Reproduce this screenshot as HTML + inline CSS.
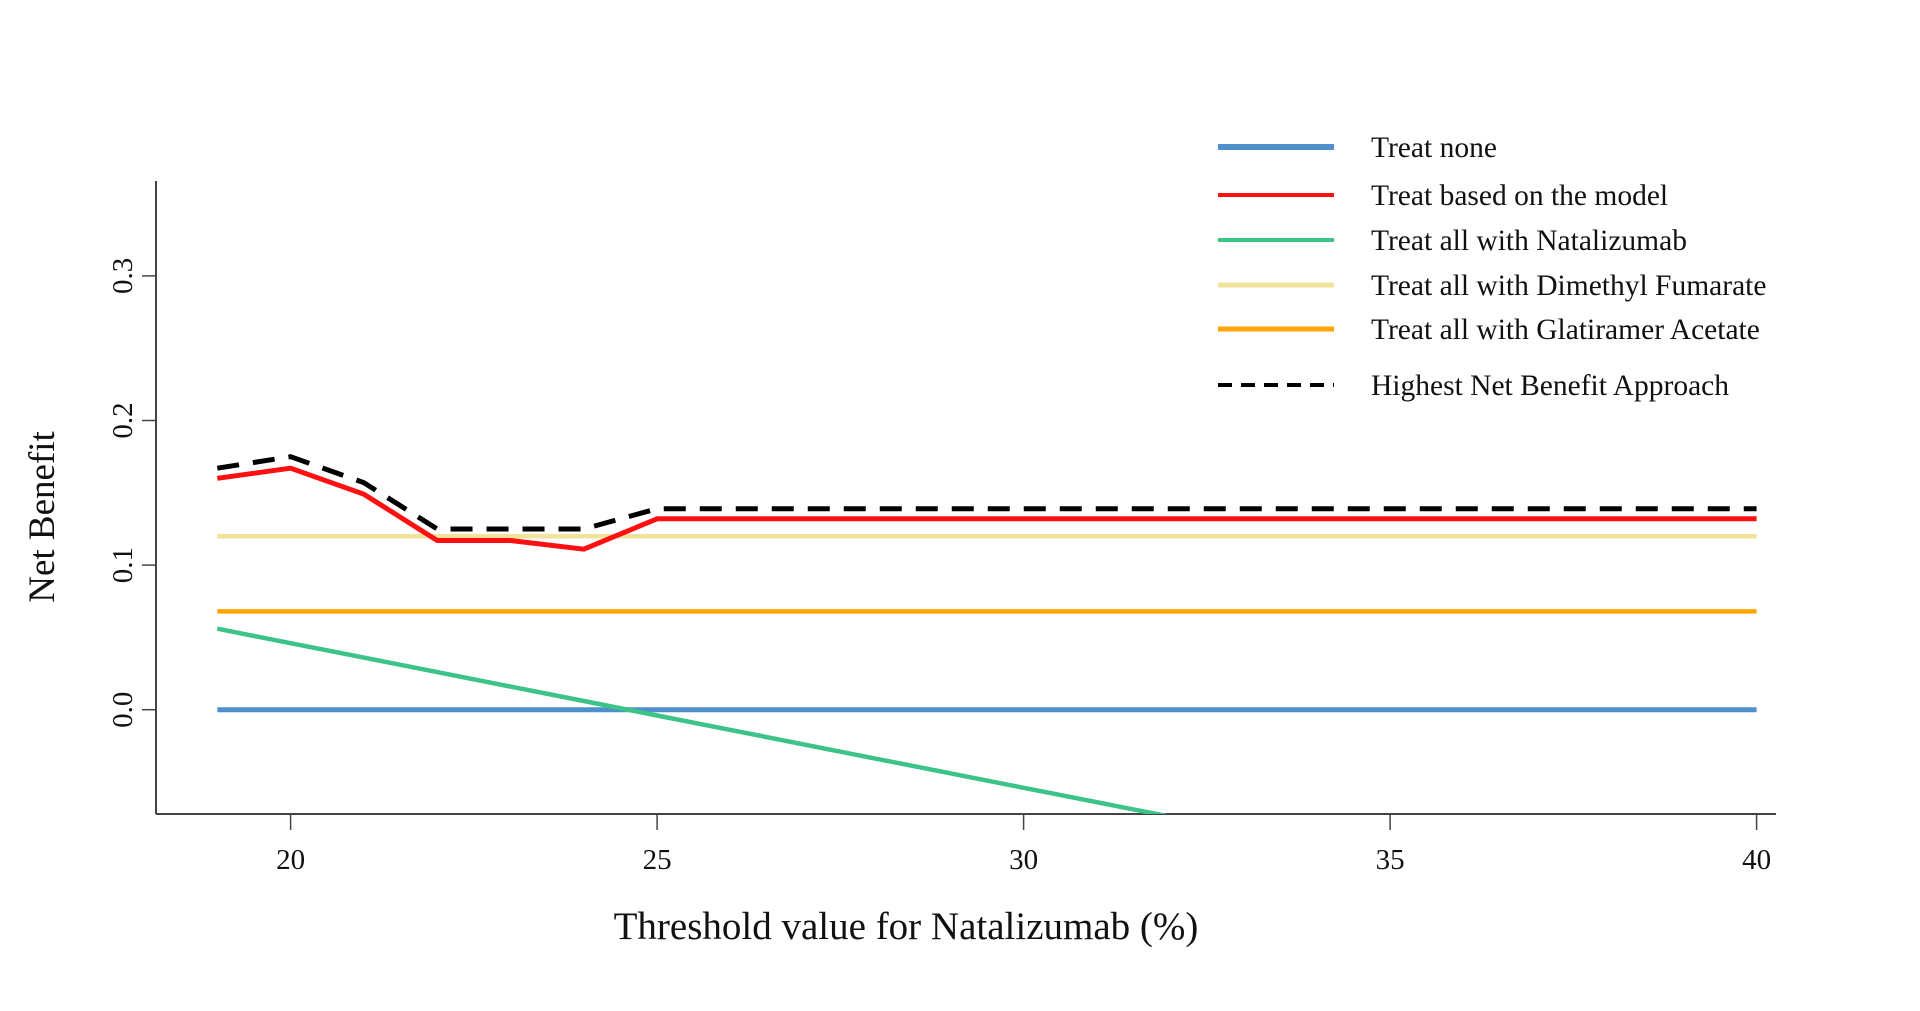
<!DOCTYPE html>
<html><head><meta charset="utf-8"><style>
html,body{margin:0;padding:0;background:#fff;}
svg{display:block;font-family:"Liberation Serif",serif;}
</style></head><body>
<svg id="chart" width="1920" height="1011" viewBox="0 0 1920 1011" xmlns="http://www.w3.org/2000/svg">
<g id="axes"></g><g id="series"></g><g id="legend"></g>
<text x="906" y="939" font-size="39" text-anchor="middle" fill="#111">Threshold value for Natalizumab (%)</text>
<text transform="translate(54,517) rotate(-90)" font-size="37" text-anchor="middle" fill="#111">Net Benefit</text>
</svg>
<script>
const xTicks = [20, 25, 30, 35, 40];
const yTicks = [0.0, 0.1, 0.2, 0.3];
const yTickLabels = ["0.0", "0.1", "0.2", "0.3"];
const xModel = [19, 20, 21, 22, 23, 24, 25, 40];
const modelValues = [0.160, 0.167, 0.149, 0.117, 0.117, 0.111, 0.132, 0.132];
const xBest = [19, 20, 21, 22, 23, 24, 25, 40];
const bestValues = [0.167, 0.175, 0.157, 0.125, 0.125, 0.125, 0.139, 0.139];
const xNatal = [19, 20, 21, 22, 23, 24, 25, 26, 27, 28, 29, 30, 31, 32];
const natalValues = [0.056, 0.046, 0.036, 0.026, 0.016, 0.006, -0.004, -0.014, -0.024, -0.034, -0.044, -0.054, -0.064, -0.074];
const xFlat = [19, 40];
const noneValues = [0, 0];
const dmfValues = [0.120, 0.120];
const glatValues = [0.068, 0.068];
const legendLabels = ["Treat none", "Treat based on the model", "Treat all with Natalizumab", "Treat all with Dimethyl Fumarate", "Treat all with Glatiramer Acetate", "Highest Net Benefit Approach"];

const NS = "http://www.w3.org/2000/svg";
const X0 = 290.6, XS = 73.3, Y0 = 709.7, YS = 1446;
const PL = 156, PR = 1776, PT = 181, PB = 814;
function sx(v){ return X0 + (v - 20) * XS; }
function sy(v){ return Y0 - v * YS; }
function mk(tag, attrs, parent){ const e = document.createElementNS(NS, tag); for (const k in attrs) e.setAttribute(k, attrs[k]); parent.appendChild(e); return e; }
const axes = document.getElementById('axes');
const ser = document.getElementById('series');
const leg = document.getElementById('legend');

const ya = mk('line', {x1:PL, y1:PT, x2:PL, y2:PB, stroke:'#444', 'stroke-width':2}, axes);


const xa = mk('line', {x1:PL, y1:PB, x2:PR, y2:PB, stroke:'#444', 'stroke-width':2}, axes);



xTicks.forEach(t => {
  const l = mk('line', {x1:sx(t), y1:PB, x2:sx(t), y2:PB+16, stroke:'#444', 'stroke-width':1.5}, axes);
  
  
  const tx = mk('text', {x:sx(t), y:869, 'font-size':29, 'text-anchor':'middle', fill:'#111'}, axes);
  tx.textContent = t;
  
  
});
yTicks.forEach((t, i) => {
  const l = mk('line', {x1:PL-14, y1:sy(t), x2:PL, y2:sy(t), stroke:'#444', 'stroke-width':1.5}, axes);
  
  
  const tx = mk('text', {transform:`translate(132,${sy(t)}) rotate(-90)`, 'font-size':29, 'text-anchor':'middle', fill:'#111'}, axes);
  tx.textContent = yTickLabels[i];
  
  
});

const clip = mk('clipPath', {id:'pc'}, ser);
mk('rect', {x:PL, y:PT, width:PR-PL, height:PB-PT}, clip);
function series(xs, vs, color, w, name, dash){
  const pts = xs.map((x, i) => sx(x).toFixed(1) + ',' + sy(vs[i]).toFixed(1)).join(' ');
  const a = {points:pts, fill:'none', stroke:color, 'stroke-width':w, 'stroke-linejoin':'round', 'clip-path':'url(#pc)'};
  if (dash) a['stroke-dasharray'] = dash;
  const p = mk('polyline', a, ser);
  
  
}
const colors = ['#4f8fcb', '#ff1010', '#3cc388', '#f2e39a', '#ffa500', '#000'];
series(xFlat, noneValues, colors[0], 5, 'treat-none-line');
series(xNatal, natalValues, colors[2], 4.5, 'natalizumab-line');
series(xFlat, glatValues, colors[4], 4.5, 'glatiramer-line');
series(xFlat, dmfValues, colors[3], 4.5, 'dimethyl-fumarate-line');
series(xModel, modelValues, colors[1], 5, 'model-line');
series(xBest, bestValues, colors[5], 5, 'highest-net-benefit-line', '22,14');

const ly = [147, 195, 240, 285, 329, 385];
const lw = [6, 4, 4, 5, 5, 4];
legendLabels.forEach((lab, i) => {
  const a = {x1:1218, y1:ly[i], x2:1334, y2:ly[i], stroke:colors[i], 'stroke-width':lw[i]};
  if (i === 5) a['stroke-dasharray'] = '14,9';
  const l = mk('line', a, leg);
  
  
  const t = mk('text', {x:1371, y:ly[i]+10, 'font-size':29.5, fill:'#111'}, leg);
  t.textContent = lab;
  
  
});
</script>
</body></html>
